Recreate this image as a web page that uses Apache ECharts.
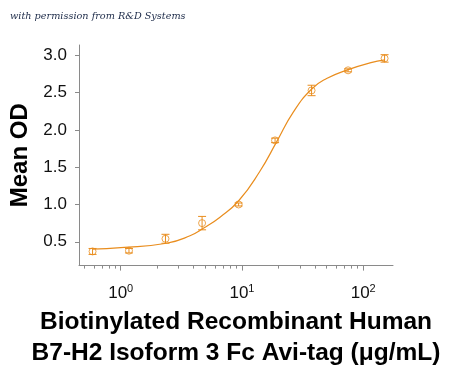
<!DOCTYPE html>
<html>
<head>
<meta charset="utf-8">
<script src="https://cdn.jsdelivr.net/npm/echarts@6/dist/echarts.min.js"></script>
<style>
html,body{margin:0;padding:0;background:#fff;}
#chart{width:450px;height:374px;}
</style>
</head>
<body>
<div id="chart"></div>
<script>
// Data
const concentrations = [0.586, 1.17, 2.34, 4.69, 9.38, 18.75, 37.5, 75, 150];
const meanOD = [0.37, 0.38, 0.54, 0.75, 1.00, 1.86, 2.53, 2.80, 2.96];
const errOD = [0.04, 0.03, 0.06, 0.09, 0.02, 0.03, 0.07, 0.02, 0.05];
const fitX = [0.586, 1.0, 2.39, 3.73, 4.80, 6.59, 9.40, 14.1, 19.3, 26.5, 37.6, 49.9, 75.2, 113.5, 151];
const fitY = [0.40, 0.42, 0.48, 0.58, 0.68, 0.83, 1.05, 1.45, 1.84, 2.24, 2.55, 2.69, 2.81, 2.90, 2.94];
const xMajorTicks = [1, 10, 100];
const xMinorTicks = [0.5, 0.6, 0.7, 0.8, 0.9, 2, 3, 4, 5, 6, 7, 8, 9, 20, 30, 40, 50, 60, 70, 80, 90];
const yTicks = [0.5, 1.0, 1.5, 2.0, 2.5, 3.0];
const xTitle = 'Biotinylated Recombinant Human\nB7-H2 Isoform 3 Fc Avi-tag (μg/mL)';
const yTitle = 'Mean OD';
const credit = 'with permission from R&D Systems';

const ORANGE = '#E98D1E';
const AXIS = '#8a8a8a';
const FONT = 'Liberation Sans, Arial, sans-serif';

const points = concentrations.map((c, i) => [c, meanOD[i]]);
const errData = concentrations.map((c, i) => [c, meanOD[i] - errOD[i], meanOD[i] + errOD[i]]);
const fitData = fitX.map((x, i) => [x, fitY[i]]);

const chart = echarts.init(document.getElementById('chart'), null, {renderer: 'canvas'});
const xMin = 0.453, xMax = 176;

chart.setOption({
  animation: false,
  backgroundColor: '#fff',
  graphic: [{
    type: 'text', left: 10, top: 11,
    style: {text: credit, fill: '#1c2a48', font: 'italic 9.7px "DejaVu Serif", serif'}
  }],
  grid: {left: 79, right: 57, top: 45, bottom: 105, containLabel: false},
  xAxis: [{
    type: 'log', logBase: 10, min: xMin, max: xMax, position: 'bottom',
    name: xTitle, nameLocation: 'middle', nameGap: 41,
    nameTextStyle: {fontFamily: FONT, fontWeight: 'bold', fontSize: 24.5, color: '#000', lineHeight: 31, verticalAlign: 'top'},
    axisLine: {show: true, lineStyle: {color: AXIS, width: 1}},
    axisTick: {show: true, length: 5, customValues: xMajorTicks, lineStyle: {color: AXIS}},
    axisLabel: {
      customValues: xMajorTicks, margin: 18,
      formatter: v => '{b|10}{s|' + Math.round(Math.log10(v)) + '}',
      rich: {
        b: {fontFamily: FONT, fontSize: 17, color: '#111'},
        s: {fontFamily: FONT, fontSize: 11, color: '#111', verticalAlign: 'top', padding: [0, 0, 9, 0]}
      }
    },
    splitLine: {show: false}
  }, {
    type: 'log', logBase: 10, min: xMin, max: xMax, position: 'bottom', offset: 0,
    axisLine: {show: false},
    axisTick: {show: true, length: 3, customValues: xMinorTicks, lineStyle: {color: AXIS}},
    axisLabel: {show: false},
    splitLine: {show: false}
  }],
  yAxis: {
    type: 'value', min: 0.18, max: 3.14,
    name: yTitle, nameLocation: 'middle', nameGap: 32, nameRotate: 90,
    nameTextStyle: {fontFamily: FONT, fontWeight: 'bold', fontSize: 24, color: '#000'},
    axisLine: {show: true, lineStyle: {color: AXIS, width: 1}},
    axisTick: {show: true, length: 4, customValues: yTicks, lineStyle: {color: AXIS}},
    axisLabel: {customValues: yTicks, margin: 12, fontFamily: FONT, fontSize: 17, color: '#111',
      formatter: v => v.toFixed(1)},
    splitLine: {show: false}
  },
  series: [{
    type: 'line', data: fitData, smooth: 0.5, showSymbol: false,
    lineStyle: {color: ORANGE, width: 1.2}, z: 2
  }, {
    type: 'custom', data: errData, clip: false, z: 3,
    renderItem: (params, api) => {
      const x = api.value(0);
      const lo = api.coord([x, api.value(1)]);
      const hi = api.coord([x, api.value(2)]);
      const w = 4;
      const st = {stroke: ORANGE, lineWidth: 1, fill: null};
      return {type: 'group', children: [
        {type: 'line', shape: {x1: lo[0], y1: lo[1], x2: hi[0], y2: hi[1]}, style: st},
        {type: 'line', shape: {x1: lo[0] - w, y1: lo[1], x2: lo[0] + w, y2: lo[1]}, style: st},
        {type: 'line', shape: {x1: hi[0] - w, y1: hi[1], x2: hi[0] + w, y2: hi[1]}, style: st}
      ]};
    },
    encode: {x: 0, y: [1, 2]}
  }, {
    type: 'scatter', data: points, symbol: 'circle', symbolSize: 7, z: 4,
    itemStyle: {color: 'rgba(255,255,255,0)', borderColor: ORANGE, borderWidth: 1}
  }]
});
</script>
</body>
</html>
